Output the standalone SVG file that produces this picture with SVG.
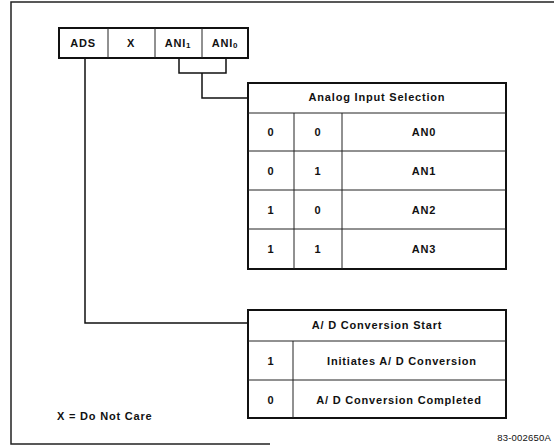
<svg xmlns="http://www.w3.org/2000/svg" width="554" height="446" viewBox="0 0 554 446">
<style>
text{font-family:"Liberation Sans",Arial,sans-serif;font-weight:bold;font-size:11px;fill:#111;text-anchor:middle;dominant-baseline:central;letter-spacing:0.8px}
.frame{fill:none;stroke:#222;stroke-width:1.5}
.outer{fill:#fff;stroke:#111;stroke-width:2}
.inner{fill:none;stroke:#222;stroke-width:1}
.conn{fill:none;stroke:#111;stroke-width:1.5}
.small{font-weight:normal;font-size:9.5px;letter-spacing:0.2px;text-anchor:end}
</style>
<rect width="554" height="446" fill="#fff"/>
<path class="frame" d="M554,2 H11 V444 H270"/>
<g id="connectors">
<path class="conn" d="M179,58 V73 H226 V58"/>
<path class="conn" d="M202,73 V98 H248"/>
<path class="conn" d="M85,58 V323 H248"/>
</g>
<g id="register">
<rect class="outer" x="59" y="28" width="189" height="30"/>
<path class="inner" d="M108,28 V58 M155,28 V58 M202,28 V58"/>
<text x="83" y="43">ADS</text>
<text x="131" y="43">X</text>
<text x="178" y="43">ANI<tspan font-size="8" dy="2">1</tspan></text>
<text x="225" y="43">ANI<tspan font-size="8" dy="2">0</tspan></text>
</g>
<g id="analog-table">
<rect class="outer" x="248" y="83" width="258" height="186"/>
<path class="inner" d="M248,113 H506 M248,151 H506 M248,190 H506 M248,229 H506 M294,113 V269 M342,113 V269"/>
<text x="377" y="97">Analog Input Selection</text>
<text x="271" y="132">0</text><text x="318" y="132">0</text><text x="424" y="132">AN0</text>
<text x="271" y="171">0</text><text x="318" y="171">1</text><text x="424" y="171">AN1</text>
<text x="271" y="210">1</text><text x="318" y="210">0</text><text x="424" y="210">AN2</text>
<text x="271" y="249">1</text><text x="318" y="249">1</text><text x="424" y="249">AN3</text>
</g>
<g id="ad-table">
<rect class="outer" x="248" y="310" width="258" height="108"/>
<path class="inner" d="M248,341 H506 M248,380 H506 M293,341 V418"/>
<text x="377" y="325">A/ D Conversion Start</text>
<text x="271" y="361">1</text>
<text x="402" y="361">Initiates A/ D Conversion</text>
<text x="271" y="400">0</text>
<text x="399" y="400">A/ D Conversion Completed</text>
</g>
<text x="57" y="416" style="text-anchor:start">X = Do Not Care</text>
<text class="small" x="551" y="437">83-002650A</text>
</svg>
